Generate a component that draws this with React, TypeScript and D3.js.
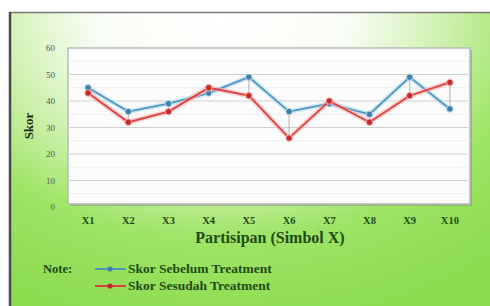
import React from "react";
import * as d3 from "d3";

// data
const categories = ["X1", "X2", "X3", "X4", "X5", "X6", "X7", "X8", "X9", "X10"];
const sebelum = [45, 36, 39, 43, 49, 36, 39, 35, 49, 37];
const sesudah = [43, 32, 36, 45, 42, 26, 40, 32, 42, 47];
const yTicks = [0, 10, 20, 30, 40, 50, 60];
const minorTicks = [5, 15, 25, 35, 45, 55];

const W = 490;
const H = 306;
const plot = { left: 68, right: 470, top: 48, bottom: 204 };
const txt = "#1f4a16";
const serif = "'Liberation Serif', 'Times New Roman', serif";

const App = () => {
  const x = d3.scaleBand<string>()
    .domain(categories)
    .range([plot.left, plot.right]);

  const y = d3.scaleLinear()
    .domain([0, 60])
    .range([plot.bottom + 3, plot.top]);

  const cx = (c: string) => (x(c) as number) + x.bandwidth() / 2;

  const line = d3.line<number>()
    .x((d, i) => cx(categories[i]))
    .y(d => y(d));

  const series = [
    { name: "Skor Sebelum Treatment", values: sebelum, color: "#5096c0", glow: "#b0d8ee", dot: "#3f7fa6" },
    { name: "Skor Sesudah Treatment", values: sesudah, color: "#de4040", glow: "#f7abab", dot: "#c42a2a" },
  ];

  return (
    <svg width={W} height={H} style={{ position: "absolute", left: 0, top: 0 }}>
      <defs>
        <radialGradient id="bg" cx="44%" cy="0%" r="90%" fx="44%" fy="0%" gradientTransform="scale(1,1.2)">
          <stop offset="0" stopColor="#ffffff" />
          <stop offset="0.3" stopColor="#f8fdf4" />
          <stop offset="0.52" stopColor="#cdf1ae" />
          <stop offset="0.72" stopColor="#9ee465" />
          <stop offset="1" stopColor="#8cdc50" />
        </radialGradient>
      </defs>
      <rect x={0} y={0} width={W} height={H} fill="#ffffff" />
      <rect x={10} y={12} width={W - 10} height={H - 12} fill="url(#bg)" />
      <line x1={9} x2={W} y1={12.5} y2={12.5} stroke="#7a7a7a" strokeWidth={1.5} />
      <line x1={10} x2={10} y1={12} y2={H} stroke="#4a4a4a" strokeWidth={2.5} />

      {/* plot area with a small shadow */}
      <rect x={plot.left + 2} y={plot.top + 2} width={plot.right - plot.left} height={plot.bottom - plot.top} fill="#8a9a80" opacity={0.6} />
      <rect x={plot.left} y={plot.top} width={plot.right - plot.left} height={plot.bottom - plot.top} fill="#fcfcfc" stroke="#b9b9b9" strokeWidth={1.5} />

      {minorTicks.map(t => (
        <line key={"m" + t} x1={plot.left + 2} x2={plot.right - 2} y1={y(t)} y2={y(t)} stroke="#ededed" strokeWidth={1} />
      ))}
      {yTicks.filter(t => t > 0 && t < 60).map(t => (
        <line key={"g" + t} x1={plot.left + 2} x2={plot.right - 2} y1={y(t)} y2={y(t)} stroke="#cfcfcf" strokeWidth={1.2} />
      ))}

      {yTicks.map(t => (
        <text key={"t" + t} x={plot.left - 13} y={y(t) + 3} fontSize={9} fontFamily={serif} fill="#555" textAnchor="end">{t}</text>
      ))}

      {/* high-low lines */}
      {categories.map((c, i) => (
        <line key={"hl" + c} x1={cx(c)} x2={cx(c)} y1={y(sebelum[i])} y2={y(sesudah[i])} stroke="#9aa0a0" strokeWidth={0.8} />
      ))}

      {series.map(s => (
        <g key={s.name}>
          <path d={line(s.values) ?? ""} fill="none" stroke={s.glow} strokeWidth={5} opacity={0.55} />
          <path d={line(s.values) ?? ""} fill="none" stroke={s.color} strokeWidth={1.8} />
          {s.values.map((v, i) => (
            <circle key={i} cx={cx(categories[i])} cy={y(v)} r={3.2} fill={s.dot} stroke={s.glow} strokeWidth={1} />
          ))}
        </g>
      ))}

      {categories.map(c => (
        <text key={"x" + c} x={cx(c)} y={224} fontSize={10.5} fontWeight="bold" fontFamily={serif} fill={txt} textAnchor="middle">{c}</text>
      ))}

      <text x={270} y={243} fontSize={16} fontWeight="bold" fontFamily={serif} fill={txt} textAnchor="middle">Partisipan (Simbol X)</text>
      <text transform={`translate(33,${(plot.top + plot.bottom) / 2}) rotate(-90)`} fontSize={13} fontWeight="bold" fontFamily={serif} fill="#1a2a10" textAnchor="middle">Skor</text>

      {/* legend */}
      <text x={43} y={273} fontSize={12.5} fontWeight="bold" fontFamily={serif} fill={txt}>Note:</text>
      {series.map((s, i) => (
        <g key={"lg" + s.name} transform={`translate(0,${269 + i * 17})`}>
          <line x1={95} x2={126} y1={0} y2={0} stroke={s.color} strokeWidth={2} />
          <circle cx={110} cy={0} r={2.6} fill={s.dot} />
          <text x={128} y={4} fontSize={13.5} fontWeight="bold" fontFamily={serif} fill={txt}>{s.name}</text>
        </g>
      ))}
    </svg>
  );
};

export default App;
